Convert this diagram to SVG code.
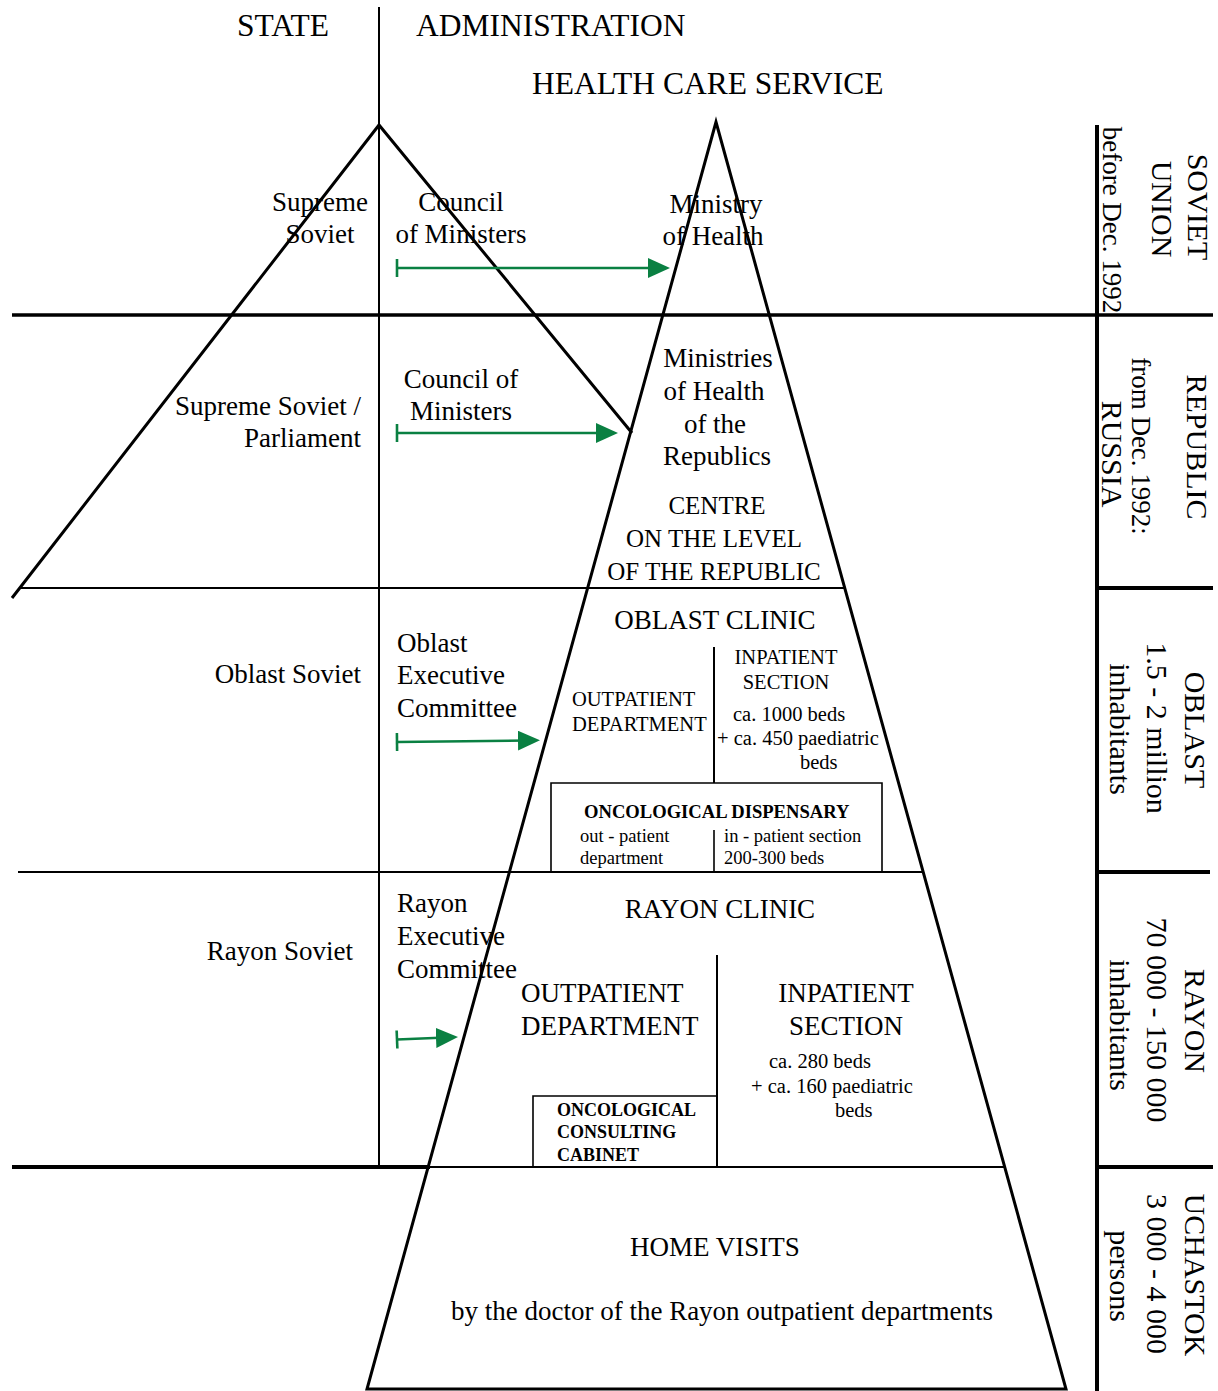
<svg xmlns="http://www.w3.org/2000/svg" width="1218" height="1391" viewBox="0 0 1218 1391">
<style>
  text { font-family: "Liberation Serif", "Times New Roman", serif; fill: #000; }
  .h { font-size: 31.5px; }
  .l { font-size: 27px; }
  .c { font-size: 25px; }
  .s { font-size: 20.5px; }
  .b { font-size: 18px; font-weight: bold; }
  .bw { font-size: 18.6px; font-weight: bold; }
  .t { font-size: 18.5px; }
  .r { font-size: 30px; }
  .rs { font-size: 27px; }
  .mid { text-anchor: middle; }
  .end { text-anchor: end; }
  .ln { stroke: #000; fill: none; }
  .thin { stroke-width: 2; }
  .thick { stroke-width: 4; }
  .edge { stroke-width: 3; stroke-linejoin: miter; stroke-miterlimit: 20; }
  .box { stroke: #000; stroke-width: 1.6; fill: none; }
  .arr { stroke: #0a8042; stroke-width: 2.6; fill: none; marker-start: url(#tick); marker-end: url(#head); }
</style>
<defs>
  <marker id="head" viewBox="0 0 22 20" refX="10" refY="10" markerWidth="22" markerHeight="20" markerUnits="userSpaceOnUse" orient="auto">
    <path d="M0,0 L22,10 L0,20 Z" fill="#0a8042"/>
  </marker>
  <marker id="tick" viewBox="0 0 4 20" refX="2" refY="10" markerWidth="4" markerHeight="20" markerUnits="userSpaceOnUse" orient="auto">
    <path d="M2,1 V19" stroke="#0a8042" stroke-width="2.6"/>
  </marker>
</defs>
<rect width="1218" height="1391" fill="#fff"/>

<g id="grid">
  <line class="ln thin" x1="379" y1="7" x2="379" y2="1167"/>
  <line class="ln" stroke-width="3.5" x1="12" y1="315" x2="1213" y2="315"/>
  <line class="ln thin" x1="20" y1="588" x2="845" y2="588"/>
  <line class="ln thin" x1="18" y1="872" x2="923" y2="872"/>
  <line class="ln thick" x1="12" y1="1167" x2="430" y2="1167"/>
  <line class="ln thin" x1="430" y1="1167" x2="1004" y2="1167"/>
  <line class="ln thick" x1="1097" y1="125" x2="1097" y2="1391"/>
  <line class="ln thick" x1="1097" y1="588" x2="1213" y2="588"/>
  <line class="ln thick" x1="1097" y1="872" x2="1210" y2="872"/>
  <line class="ln thick" x1="1097" y1="1167" x2="1213" y2="1167"/>
</g>

<g id="state-pyramid">
  <polyline class="ln edge" points="12,598 379,125 632,433"/>
</g>

<g id="health-pyramid">
  <polygon class="ln edge" points="716,122 1066,1389 367,1389"/>
</g>

<g id="headers">
  <text class="h" x="237" y="36">STATE</text>
  <text class="h" x="416" y="36">ADMINISTRATION</text>
  <text class="h" x="532" y="94">HEALTH CARE SERVICE</text>
</g>

<g id="supreme-soviet">
  <text class="l mid" x="320" y="211">Supreme</text>
  <text class="l mid" x="320" y="243">Soviet</text>
</g>
<g id="council-ministers-su">
  <text class="l mid" x="461" y="211">Council</text>
  <text class="l mid" x="461" y="243">of Ministers</text>
</g>
<g id="ministry-health">
  <text class="l mid" x="716" y="213">Ministry</text>
  <text class="l mid" x="713" y="245">of Health</text>
</g>

<g id="supreme-soviet-parliament">
  <text class="l end" x="361" y="415">Supreme Soviet /</text>
  <text class="l end" x="361" y="447">Parliament</text>
</g>
<g id="council-ministers-rep">
  <text class="l mid" x="461" y="388">Council of</text>
  <text class="l mid" x="461" y="420">Ministers</text>
</g>
<g id="ministries-republics">
  <text class="l mid" x="718" y="367">Ministries</text>
  <text class="l mid" x="714" y="400">of Health</text>
  <text class="l mid" x="715" y="433">of the</text>
  <text class="l mid" x="717" y="465">Republics</text>
  <text class="c mid" x="717" y="514">CENTRE</text>
  <text class="c mid" x="714" y="547">ON THE LEVEL</text>
  <text class="c mid" x="714" y="580">OF THE REPUBLIC</text>
</g>

<g id="oblast-soviet">
  <text class="l end" x="361" y="683">Oblast Soviet</text>
</g>
<g id="oblast-executive">
  <text class="l" x="397" y="652">Oblast</text>
  <text class="l" x="397" y="684">Executive</text>
  <text class="l" x="397" y="717">Committee</text>
</g>
<g id="oblast-clinic">
  <text class="l mid" x="715" y="629">OBLAST CLINIC</text>
  <line class="ln thin" x1="714" y1="647" x2="714" y2="783"/>
  <text class="s" x="572" y="706">OUTPATIENT</text>
  <text class="s" x="572" y="731">DEPARTMENT</text>
  <text class="s mid" x="786" y="664">INPATIENT</text>
  <text class="s mid" x="786" y="689">SECTION</text>
  <text class="s" x="733" y="721">ca. 1000 beds</text>
  <text class="s" x="717" y="745">+ ca. 450 paediatric</text>
  <text class="s" x="800" y="769">beds</text>
</g>
<g id="oncological-dispensary">
  <polyline class="box" points="551,872 551,783 882,783 882,872"/>
  <line class="box" x1="714" y1="830" x2="714" y2="872"/>
  <text class="bw" x="584" y="818">ONCOLOGICAL DISPENSARY</text>
  <text class="t" x="580" y="842">out - patient</text>
  <text class="t" x="580" y="864">department</text>
  <text class="t" x="724" y="842">in - patient section</text>
  <text class="t" x="724" y="864">200-300 beds</text>
</g>

<g id="rayon-soviet">
  <text class="l end" x="353" y="960">Rayon Soviet</text>
</g>
<g id="rayon-executive">
  <text class="l" x="397" y="912">Rayon</text>
  <text class="l" x="397" y="945">Executive</text>
  <text class="l" x="397" y="978">Committee</text>
</g>
<g id="rayon-clinic">
  <text class="l mid" x="720" y="918">RAYON CLINIC</text>
  <line class="ln thin" x1="717" y1="955" x2="717" y2="1167"/>
  <text class="l" x="521" y="1002">OUTPATIENT</text>
  <text class="l" x="521" y="1035">DEPARTMENT</text>
  <text class="l mid" x="846" y="1002">INPATIENT</text>
  <text class="l mid" x="846" y="1035">SECTION</text>
  <text class="s" x="769" y="1068">ca. 280 beds</text>
  <text class="s" x="751" y="1093">+ ca. 160 paediatric</text>
  <text class="s" x="835" y="1117">beds</text>
</g>
<g id="oncological-cabinet">
  <polyline class="box" points="533,1167 533,1096 717,1096"/>
  <text class="b" x="557" y="1116">ONCOLOGICAL</text>
  <text class="b" x="557" y="1138">CONSULTING</text>
  <text class="b" x="557" y="1161">CABINET</text>
</g>

<g id="home-visits">
  <text class="l mid" x="715" y="1256">HOME VISITS</text>
  <text class="l mid" x="722" y="1320">by the doctor of the Rayon outpatient departments</text>
</g>

<g id="level-soviet-union">
  <text class="r mid" transform="translate(1188,207) rotate(90)">SOVIET</text>
  <text class="r mid" transform="translate(1152,209) rotate(90)">UNION</text>
  <text class="rs mid" transform="translate(1103,220) rotate(90)">before Dec. 1992</text>
</g>
<g id="level-republic">
  <text class="r mid" transform="translate(1187,447) rotate(90)">REPUBLIC</text>
  <text class="rs mid" transform="translate(1132,446) rotate(90)">from Dec. 1992:</text>
  <text class="r mid" transform="translate(1102,454) rotate(90)">RUSSIA</text>
</g>
<g id="level-oblast">
  <text class="r mid" transform="translate(1185,730) rotate(90)">OBLAST</text>
  <text class="r mid" transform="translate(1147,728) rotate(90)">1.5 - 2 million</text>
  <text class="r mid" transform="translate(1110,729) rotate(90)">inhabitants</text>
</g>
<g id="level-rayon">
  <text class="r mid" transform="translate(1185,1021) rotate(90)">RAYON</text>
  <text class="r mid" transform="translate(1147,1020) rotate(90)">70 000 - 150 000</text>
  <text class="r mid" transform="translate(1110,1025) rotate(90)">inhabitants</text>
</g>
<g id="level-uchastok">
  <text class="r mid" transform="translate(1185,1275) rotate(90)">UCHASTOK</text>
  <text class="r mid" transform="translate(1147,1274) rotate(90)">3 000 - 4 000</text>
  <text class="r mid" transform="translate(1110,1276) rotate(90)">persons</text>
</g>

<g id="connectors">
  <line class="arr" x1="397" y1="268" x2="658" y2="268"/>
  <line class="arr" x1="397" y1="433" x2="606" y2="433"/>
  <line class="arr" x1="397" y1="742" x2="528" y2="740.5"/>
  <line class="arr" x1="397" y1="1039.5" x2="446" y2="1037.5"/>
</g>
</svg>
